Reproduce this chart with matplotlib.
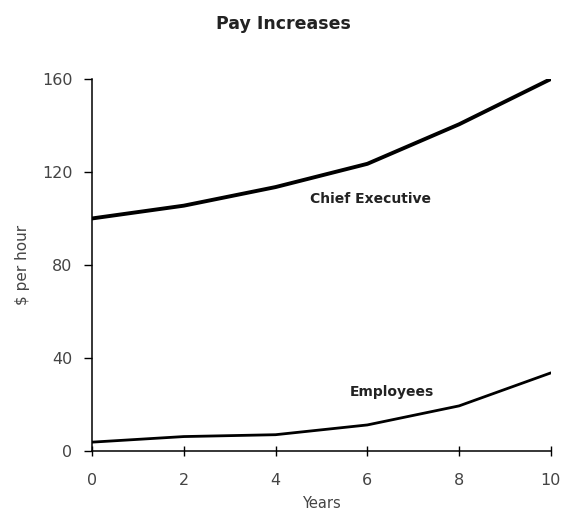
import matplotlib
matplotlib.use("Agg")
import matplotlib.pyplot as plt

# data
years = [0, 2, 4, 6, 8, 10]
chief_exec = [100, 105.5, 113.5, 123.5, 140.5, 160]
employees = [3.8, 6.2, 7.0, 11.2, 19.4, 33.6]
x_ticks = [0, 2, 4, 6, 8, 10]
y_ticks = [0, 40, 80, 120, 160]

fig = plt.figure(figsize=(5.61, 5.16), dpi=100)
ax = fig.add_axes([0.164, 0.126, 0.818, 0.721])

ax.plot(years, chief_exec, color='black', lw=2.8, solid_capstyle='round')
ax.plot(years, employees, color='black', lw=2.0, solid_capstyle='round')

ax.text(6.06, 108.5, 'Chief Executive', ha='center', va='center',
        fontsize=10, fontweight='bold', color='#222222')
ax.text(6.54, 25.4, 'Employees', ha='center', va='center',
        fontsize=10, fontweight='bold', color='#222222')

ax.set_xlim(0, 10)
ax.set_ylim(0, 160)
ax.set_xticks(x_ticks)
ax.set_yticks(y_ticks)
ax.spines['top'].set_visible(False)
ax.spines['right'].set_visible(False)
ax.spines['left'].set_linewidth(1.1)
ax.spines['bottom'].set_linewidth(1.1)
ax.tick_params(axis='x', direction='inout', length=7, width=1, labelsize=11.5,
               labelcolor='#444444', pad=12)
ax.tick_params(axis='y', direction='out', length=6, width=1, labelsize=11.5,
               labelcolor='#444444', pad=8)

ax.set_xlabel('Years', fontsize=10.5, color='#444444', labelpad=6)
ax.set_ylabel('$ per hour', fontsize=11, color='#444444', labelpad=9)

fig.text(0.505, 0.953, 'Pay Increases', ha='center', va='center',
         fontsize=12.5, fontweight='bold', color='#222222')

fig.savefig('out.png', dpi=100)
